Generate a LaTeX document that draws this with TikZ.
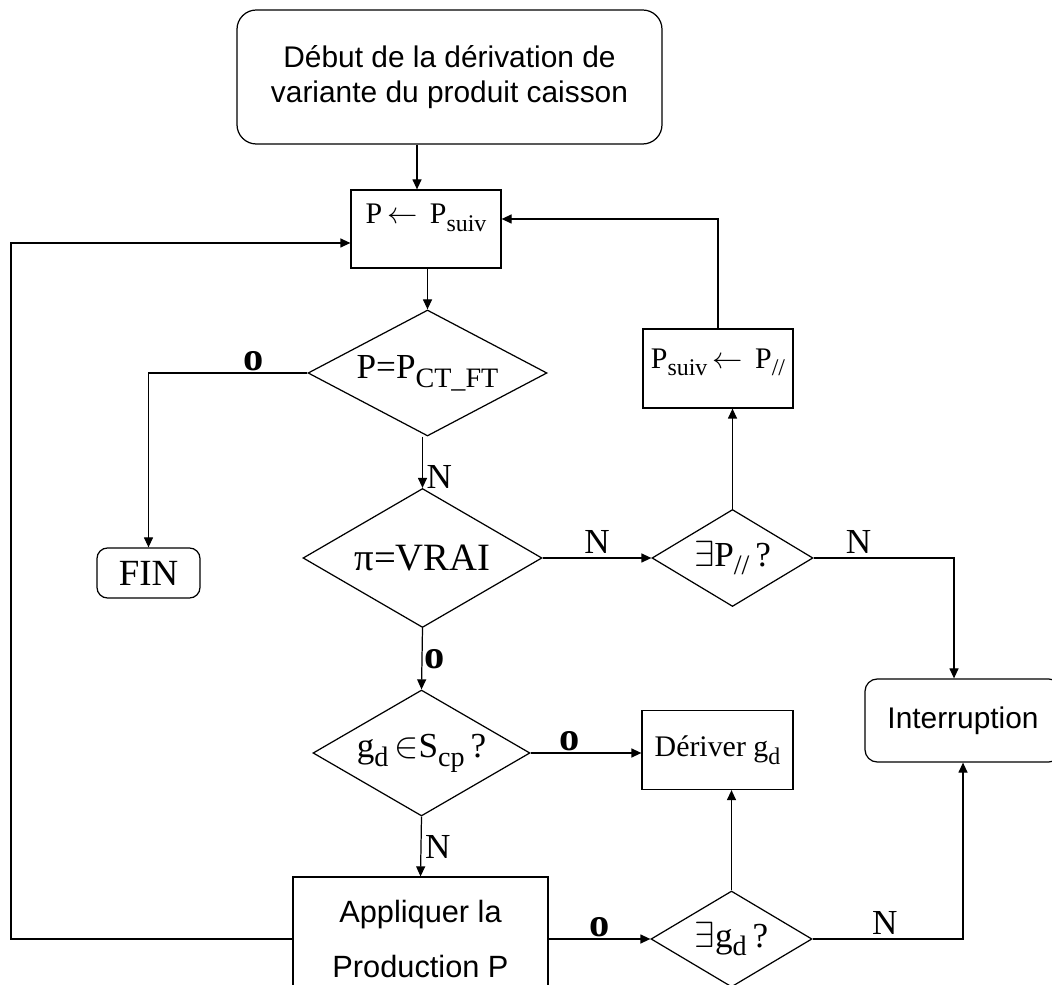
\documentclass[tikz,border=0pt]{standalone}
\usepackage{amsmath}
\usepackage{graphicx}
\usepackage{fontspec}
\setmainfont{Liberation Serif}
\newfontfamily\arialfont{Liberation Sans}
\usetikzlibrary{arrows.meta, positioning, calc, shapes.geometric}
\newcommand{\fsz}[1]{\fontsize{#1}{#1}\selectfont}
\newcommand{\ind}[1]{\raisebox{-0.55ex}{\scalebox{0.8}{#1}}}

\begin{document}
\begin{tikzpicture}[
    box/.style={draw, inner sep=0pt, align=center},
    rbox/.style={box, rounded corners=9pt},
    test/.style={draw, diamond, aspect=1.7, inner sep=0pt},
    lab/.style={font=\fsz{20}, inner sep=2pt},
    oui/.style={font=\bfseries\fsz{23}, inner sep=1pt},
    >={Triangle[length=2mm, width=1.8mm]}, line width=0.7pt
]
  \useasboundingbox (0,0) rectangle (21.04,-19.7);
  \clip (0,0) rectangle (21.04,-19.7);

  % Debut et boucle principale
  \node[rbox, rounded corners=11pt, font={\arialfont\fontsize{17}{20}\selectfont}, minimum width=8.5cm, minimum height=2.68cm] (debut) at (8.99,-1.54) {Début de la dérivation de\\variante du produit caisson};

  \node[box, minimum width=3cm, minimum height=1.56cm, text depth=0.6cm, font=\fsz{17}] (pcour) at (8.52,-4.58) {P\,$\leftarrow$\, P\ind{suiv}};

  \node[test, minimum width=4.78cm, minimum height=2.52cm, font=\fsz{20}] (testfin) at (8.55,-7.46) {P=P\ind{CT\_FT}};

  \node[rbox, rounded corners=6pt, minimum width=2.06cm, minimum height=1cm, font=\fsz{21}] (fin) at (2.97,-11.46) {FIN};

  \node[test, minimum width=4.78cm, minimum height=2.78cm, font=\fsz{22}] (testvrai) at (8.45,-11.16) {π=VRAI};

  \draw[->] ([xshift=-0.18cm]pcour.north |- debut.south) -- ([xshift=-0.18cm]pcour.north);
  \draw[->] (testfin.north |- pcour.south) -- (testfin.north);
  \draw[->] (testfin.west) -| node[oui, pos=0.17, above] {o} (fin.north);
  \draw[->] (testvrai.north |- testfin.south) -- node[lab, pos=0.78, right] {N} (testvrai.north);

  % Production parallele
  \node[test, minimum width=3.22cm, minimum height=1.94cm, font=\fsz{20}] (testpar) at (14.65,-11.16) {$\exists$P\ind{//}\,?};

  \node[box, minimum width=3cm, minimum height=1.58cm, text depth=0.4cm, font=\fsz{17}] (psuiv) at (14.36,-7.37) {P\ind{suiv}\,$\leftarrow$\, P\ind{//}};

  \node[rbox, rounded corners=7pt, minimum width=3.92cm, minimum height=1.66cm, font={\arialfont\fsz{17}}] (interr) at (19.26,-14.41) {Interruption};

  \draw[->] (testvrai.east) -- node[lab, above] {N} (testpar.west);
  \draw[->] (testpar.north) -- (testpar.north |- psuiv.south);
  \draw[->] (psuiv.north) |- ([yshift=0.2cm]pcour.east);
  \draw[->] (testpar.east) -| node[lab, pos=0.16, above] {N} ([xshift=-0.18cm]interr.north);

  % Derivation de g_d
  \node[test, minimum width=4.34cm, minimum height=2.52cm, font=\fsz{20}] (testgd) at (8.43,-15.06) {g\ind{d}\,$\in$S\ind{cp}\,?};

  \node[box, minimum width=3.02cm, minimum height=1.58cm, font=\fsz{17}] (deriver) at (14.35,-15.0) {Dériver g\ind{d}};

  \node[box, minimum width=5.1cm, minimum height=2.48cm, font={\arialfont\fontsize{17.5}{31}\selectfont}] (appl) at (8.41,-18.78) {Appliquer la\\Production P};

  \node[test, minimum width=3.22cm, minimum height=1.92cm, font=\fsz{20}] (testexist) at (14.63,-18.78) {$\exists$g\ind{d}\,?};

  \coordinate (retour) at (0.22,-18.78);

  \draw[->] (testvrai.south) -- node[oui, right] {o} (testgd.north);
  \draw[->] (testgd.east) -- node[oui, pos=0.35, above] {o} (testgd.east -| deriver.west);
  \draw[->] (testgd.south) -- node[lab, right] {N} (appl.north);
  \draw[->] (appl.east) -- node[oui, above] {o} (testexist.west);
  \draw[->] (testexist.north) -- (testexist.north |- deriver.south);
  \draw[->] (testexist.east) -| node[lab, pos=0.24, above] {N} (interr.south);
  \draw[->] (appl.west) -- (retour) |- ([yshift=-0.28cm]pcour.west);
\end{tikzpicture}
\end{document}
